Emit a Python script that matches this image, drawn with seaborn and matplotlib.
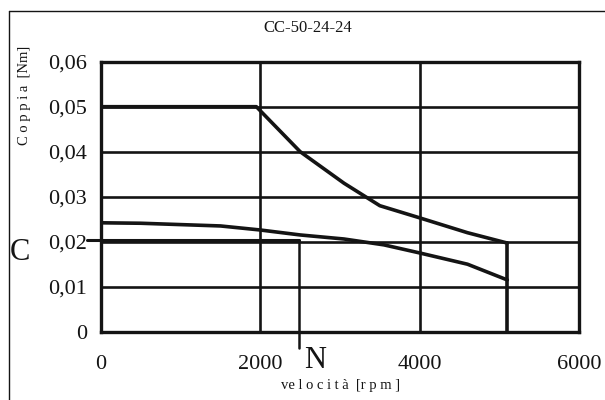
import matplotlib
matplotlib.use("Agg")
import matplotlib.pyplot as plt
import seaborn as sns
import pandas as pd
from matplotlib.lines import Line2D

# Data
speed_upper = [0, 1950, 2500, 3050, 3500, 4000, 4600, 5100]
torque_upper = [0.050, 0.050, 0.040, 0.033, 0.028, 0.0253, 0.022, 0.0197]
speed_lower = [0, 500, 1500, 2000, 2500, 3050, 3550, 4000, 4600, 5100]
torque_lower = [0.0242, 0.0241, 0.0235, 0.0226, 0.0215, 0.0206, 0.0193, 0.0175, 0.0150, 0.0115]
limit_speed = 5100
c_torque = 0.0204
n_speed = 2480
x_ticks = [0, 2000, 4000, 6000]
y_ticks = [0, 0.01, 0.02, 0.03, 0.04, 0.05, 0.06]
y_labels = ["0", "0,01", "0,02", "0,03", "0,04", "0,05", "0,06"]

sns.set_style("white")
plt.rcParams['font.family'] = ['Liberation Serif', 'DejaVu Serif']

fig = plt.figure(figsize=(6.05, 4.0), dpi=100)
ax = fig.add_axes([101/605, 1-331.7/400, (579-101)/605, (331.7-61.7)/400])

col = "#141414"
df_u = pd.DataFrame({"x": speed_upper, "y": torque_upper})
df_l = pd.DataFrame({"x": speed_lower, "y": torque_lower})
sns.lineplot(data=df_u, x="x", y="y", ax=ax, color=col, lw=2.6, sort=False, zorder=5)
sns.lineplot(data=df_l, x="x", y="y", ax=ax, color=col, lw=2.6, sort=False, zorder=5)
ax.plot([limit_speed, limit_speed], [0, torque_upper[-1]], color=col, lw=2.6, zorder=5)

# C / N construction line
ax.plot([-170, n_speed], [c_torque, c_torque], color=col, lw=2.2, clip_on=False, zorder=6)
ax.plot([n_speed, n_speed], [c_torque, -0.0036], color=col, lw=1.8, clip_on=False, zorder=6)

ax.set_xlim(0, 6000)
ax.set_ylim(0, 0.06)
ax.set_xticks(x_ticks)
ax.set_xticklabels([str(v) for v in x_ticks])
ax.set_yticks(y_ticks)
ax.set_yticklabels(y_labels)
ax.grid(True, color=col, lw=1.9)
ax.set_axisbelow(True)
for s in ax.spines.values():
    s.set_color(col)
    s.set_linewidth(2.4)
ax.tick_params(axis="both", direction="out", length=5, width=1.9, color=col,
               labelsize=16, labelcolor=col)
ax.tick_params(axis="x", pad=12)
ax.tick_params(axis="y", pad=5)
ax.set_xlabel("")
ax.set_ylabel("")

fig.text(308/605, 1-28/400, "CC-50-24-24", ha="center", va="center", fontsize=12, color=col)
fig.text(25/605, 1-95/400, "C o p p i a  [Nm]", ha="center", va="center", rotation=90,
         fontsize=10.5, color=col)
fig.text(341/605, 1-386/400, "ve l o c i t à  [r p m ]", ha="center", va="center",
         fontsize=10.5, color=col)
fig.text(20/605, 1-252/400, "C", ha="center", va="center", fontsize=22, color=col)
fig.text(315/605, 1-361/400, "N", ha="center", va="center", fontsize=22, color=col)

# Figure border
fig.add_artist(Line2D([8.5/605, 8.5/605], [0, 1-11/400], transform=fig.transFigure, color=col, lw=1.0))
fig.add_artist(Line2D([8.5/605, 1], [1-11/400, 1-11/400], transform=fig.transFigure, color=col, lw=1.0))

fig.savefig("out.png", dpi=100)
